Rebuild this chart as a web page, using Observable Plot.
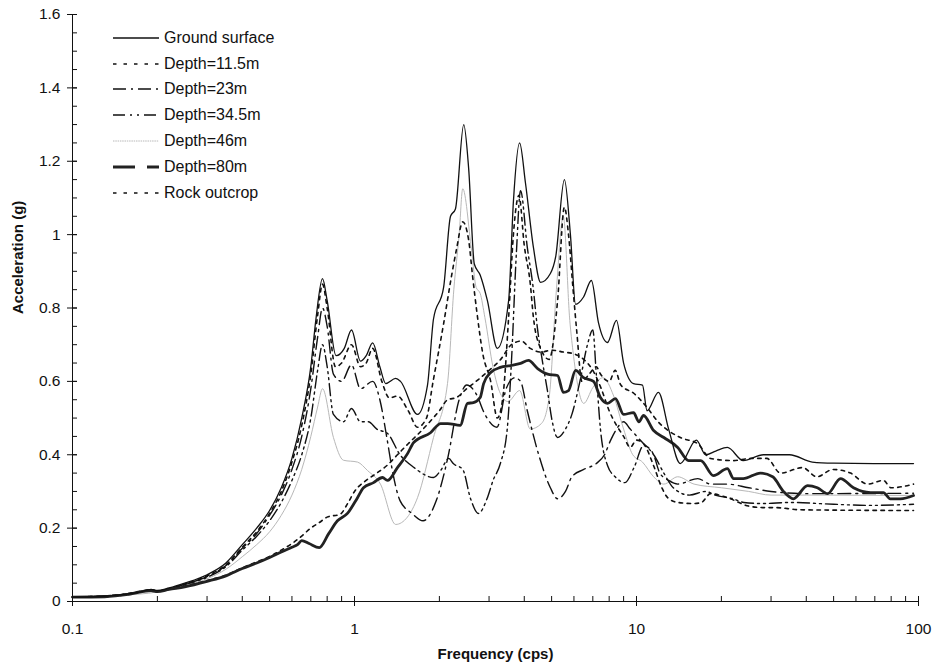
<!DOCTYPE html>
<html><head><meta charset="utf-8">
<script src="https://cdn.jsdelivr.net/npm/d3@7"></script>
<script src="https://cdn.jsdelivr.net/npm/@observablehq/plot@0.6"></script>
<style>
body{margin:0;background:#fff;}
#wrap{position:relative;width:934px;height:669px;font-family:"Liberation Sans",Arial,sans-serif;}
#legend{position:absolute;left:112px;top:25px;}
.row{display:flex;align-items:center;height:25.8px;}
.row svg{width:48px;height:10px;margin-right:4px;}
.row span{font-size:16px;color:#111;}
</style></head><body><div id="wrap"><div id="legend"></div></div>
<script>
// [frequency (cps), acceleration (g)]
const ground = [[0.1,0.012],[0.12,0.013],[0.15,0.019],[0.17,0.024],[0.19,0.033],[0.2,0.03],[0.22,0.037],[0.25,0.05],[0.3,0.073],[0.35,0.105],[0.4,0.155],[0.45,0.2],[0.5,0.248],[0.55,0.31],[0.6,0.39],[0.65,0.5],[0.7,0.64],[0.73,0.77],[0.77,0.88],[0.8,0.82],[0.86,0.67],[0.92,0.69],[0.976,0.74],[1.05,0.655],[1.1,0.67],[1.16,0.705],[1.23,0.64],[1.29,0.594],[1.4,0.608],[1.456,0.60],[1.673,0.51],[1.815,0.59],[1.906,0.77],[2.07,0.856],[2.19,1.05],[2.28,1.07],[2.44,1.30],[2.54,1.18],[2.66,0.92],[2.79,0.89],[2.96,0.82],[3.21,0.69],[3.52,0.82],[3.66,1.09],[3.85,1.25],[4.04,1.14],[4.31,0.965],[4.57,0.87],[4.95,0.894],[5.17,0.94],[5.55,1.15],[5.83,1.0],[6.08,0.81],[6.49,0.83],[6.92,0.875],[7.33,0.76],[7.89,0.706],[8.49,0.766],[9.0,0.65],[9.76,0.594],[10.5,0.59],[10.9,0.52],[11.96,0.57],[13.0,0.47],[14.3,0.376],[16.3,0.44],[17.6,0.40],[19.1,0.41],[21,0.42],[23.9,0.384],[28.2,0.40],[34.9,0.40],[42,0.38],[50,0.377],[70,0.376],[96,0.376]];
const depth11_5 = [[0.1,0.012],[0.15,0.019],[0.19,0.031],[0.2,0.029],[0.25,0.048],[0.3,0.07],[0.35,0.1],[0.4,0.148],[0.45,0.19],[0.5,0.24],[0.55,0.30],[0.6,0.38],[0.65,0.48],[0.7,0.62],[0.74,0.78],[0.77,0.865],[0.8,0.80],[0.856,0.64],[0.9,0.65],[0.976,0.70],[1.05,0.64],[1.1,0.65],[1.16,0.69],[1.25,0.60],[1.33,0.555],[1.42,0.56],[1.55,0.52],[1.673,0.475],[1.8,0.50],[1.9,0.60],[2.07,0.757],[2.2,0.88],[2.3,0.96],[2.42,1.035],[2.54,0.985],[2.62,0.89],[2.72,0.785],[2.85,0.676],[3.04,0.60],[3.21,0.50],[3.35,0.55],[3.52,0.774],[3.66,1.0],[3.83,1.107],[4.0,0.97],[4.2,0.867],[4.31,0.774],[4.57,0.69],[4.9,0.66],[5.25,0.82],[5.55,1.075],[5.74,1.0],[5.95,0.856],[6.15,0.73],[6.4,0.60],[6.8,0.62],[7.2,0.64],[7.45,0.62],[8.0,0.60],[8.4,0.63],[8.8,0.59],[9.8,0.567],[10.6,0.54],[12.1,0.485],[14.3,0.447],[16.5,0.43],[18.3,0.39],[22,0.384],[25.4,0.39],[29,0.39],[32.4,0.35],[38.8,0.365],[43.6,0.34],[49.8,0.36],[57.4,0.35],[66,0.32],[75,0.33],[80,0.31],[96,0.32]];
const depth23 = [[0.1,0.012],[0.15,0.019],[0.19,0.031],[0.2,0.028],[0.25,0.047],[0.3,0.068],[0.35,0.098],[0.4,0.145],[0.45,0.185],[0.5,0.235],[0.55,0.29],[0.6,0.36],[0.65,0.45],[0.7,0.58],[0.74,0.72],[0.77,0.80],[0.8,0.75],[0.842,0.62],[0.9,0.60],[0.976,0.645],[1.05,0.58],[1.16,0.60],[1.23,0.55],[1.3,0.45],[1.36,0.36],[1.45,0.275],[1.6,0.24],[1.75,0.22],[1.95,0.275],[2.14,0.39],[2.35,0.55],[2.5,0.59],[2.7,0.566],[2.9,0.51],[3.2,0.475],[3.45,0.58],[3.7,0.61],[3.88,0.60],[4.1,0.52],[4.5,0.40],[4.95,0.31],[5.25,0.28],[5.6,0.30],[5.9,0.34],[6.5,0.36],[7.2,0.376],[7.7,0.40],[8.1,0.44],[8.5,0.47],[9.0,0.49],[9.5,0.47],[10.6,0.43],[11.5,0.40],[12.1,0.35],[13,0.33],[14,0.32],[16.5,0.335],[18.3,0.32],[21,0.32],[25,0.31],[30,0.30],[40,0.294],[96,0.295]];
const depth34_5 = [[0.1,0.012],[0.15,0.018],[0.19,0.03],[0.2,0.028],[0.25,0.046],[0.3,0.066],[0.35,0.095],[0.4,0.14],[0.45,0.178],[0.5,0.22],[0.55,0.27],[0.6,0.33],[0.65,0.40],[0.7,0.50],[0.74,0.63],[0.77,0.70],[0.8,0.64],[0.842,0.51],[0.914,0.49],[0.976,0.526],[1.05,0.49],[1.12,0.49],[1.2,0.47],[1.31,0.458],[1.45,0.40],[1.62,0.366],[1.906,0.338],[2.02,0.357],[2.16,0.39],[2.24,0.376],[2.42,0.36],[2.58,0.28],[2.75,0.24],[2.95,0.28],[3.1,0.33],[3.29,0.376],[3.48,0.47],[3.6,0.65],[3.75,0.95],[3.88,1.12],[4.1,0.965],[4.3,0.856],[4.45,0.747],[4.65,0.65],[4.85,0.567],[5.0,0.50],[5.25,0.447],[5.6,0.47],[5.9,0.51],[6.3,0.60],[6.7,0.70],[7.0,0.74],[7.2,0.62],[7.45,0.47],[7.9,0.37],[8.4,0.34],[9.1,0.324],[9.8,0.365],[10.6,0.425],[11.5,0.40],[12.5,0.35],[13.5,0.31],[15.4,0.29],[17.6,0.30],[19,0.29],[22,0.28],[24,0.27],[28,0.267],[35,0.27],[50,0.265],[67,0.262],[96,0.265]];
const depth46 = [[0.1,0.012],[0.15,0.017],[0.2,0.026],[0.25,0.043],[0.3,0.062],[0.35,0.088],[0.4,0.122],[0.45,0.155],[0.5,0.19],[0.55,0.235],[0.6,0.29],[0.65,0.36],[0.7,0.45],[0.74,0.53],[0.77,0.58],[0.842,0.447],[0.914,0.385],[1.025,0.38],[1.112,0.357],[1.236,0.32],[1.4,0.21],[1.54,0.23],[1.673,0.283],[1.906,0.447],[2.137,0.594],[2.25,0.85],[2.35,1.0],[2.42,1.125],[2.6,0.957],[2.7,0.856],[2.79,0.84],[2.9,0.774],[3.1,0.638],[3.29,0.567],[3.5,0.545],[3.85,0.575],[4.2,0.47],[4.6,0.485],[4.9,0.556],[5.2,0.85],[5.5,1.05],[5.8,0.766],[5.95,0.684],[6.5,0.54],[7.0,0.583],[7.6,0.61],[8.3,0.56],[9.0,0.47],[9.7,0.40],[10.5,0.38],[11.5,0.34],[12.5,0.32],[14,0.34],[16,0.32],[20,0.31],[25,0.30],[30,0.29],[40,0.29],[96,0.289]];
const depth80 = [[0.1,0.012],[0.13,0.013],[0.16,0.02],[0.19,0.03],[0.2,0.027],[0.22,0.033],[0.25,0.04],[0.3,0.055],[0.35,0.07],[0.4,0.09],[0.45,0.105],[0.5,0.12],[0.55,0.135],[0.6,0.148],[0.628,0.155],[0.65,0.166],[0.69,0.158],[0.75,0.147],[0.81,0.185],[0.87,0.22],[0.944,0.24],[1.025,0.283],[1.076,0.31],[1.168,0.324],[1.257,0.338],[1.309,0.33],[1.42,0.365],[1.542,0.403],[1.62,0.433],[1.86,0.46],[2.02,0.485],[2.14,0.485],[2.37,0.48],[2.515,0.54],[2.64,0.542],[2.79,0.556],[2.87,0.594],[3.04,0.624],[3.29,0.638],[3.57,0.643],[3.88,0.649],[4.14,0.657],[4.46,0.635],[4.84,0.62],[5.25,0.616],[5.5,0.57],[5.74,0.575],[6.08,0.63],[6.49,0.61],[7.04,0.60],[7.45,0.556],[7.89,0.54],[8.42,0.553],[9.0,0.51],[9.76,0.515],[10.2,0.49],[10.59,0.507],[11.5,0.466],[12.5,0.447],[14.0,0.42],[15.3,0.384],[16.9,0.384],[18.75,0.343],[21,0.362],[22.1,0.335],[23.9,0.335],[27.5,0.35],[30.4,0.34],[33.2,0.30],[36.0,0.28],[40.4,0.316],[43.8,0.31],[47.6,0.294],[52.9,0.335],[58.8,0.31],[67.6,0.297],[75.1,0.297],[79.4,0.28],[86.3,0.28],[96,0.289]];
const rockOutcrop = [[0.1,0.012],[0.13,0.013],[0.16,0.02],[0.19,0.031],[0.2,0.028],[0.22,0.034],[0.25,0.042],[0.3,0.057],[0.35,0.072],[0.4,0.092],[0.45,0.108],[0.5,0.123],[0.55,0.14],[0.6,0.158],[0.64,0.174],[0.7,0.20],[0.75,0.215],[0.8,0.23],[0.89,0.238],[0.95,0.27],[1.0,0.30],[1.1,0.33],[1.2,0.35],[1.3,0.37],[1.42,0.40],[1.55,0.43],[1.7,0.46],[1.9,0.50],[2.0,0.52],[2.14,0.55],[2.3,0.556],[2.5,0.58],[2.7,0.60],[3.0,0.63],[3.3,0.66],[3.6,0.70],[3.9,0.71],[4.2,0.69],[4.6,0.68],[5.0,0.685],[5.5,0.68],[6.0,0.675],[6.5,0.66],[7.0,0.63],[7.5,0.58],[8.0,0.52],[8.5,0.48],[9.0,0.45],[9.5,0.42],[10,0.44],[10.6,0.43],[11.5,0.37],[12.3,0.31],[12.9,0.283],[14,0.27],[16,0.267],[17,0.27],[18.3,0.294],[21,0.283],[25,0.26],[28,0.256],[31,0.256],[38,0.25],[96,0.248]];

const seriesNames = ["Ground surface","Depth=11.5m","Depth=23m","Depth=34.5m","Depth=46m","Depth=80m","Rock outcrop"];
const xTicks = [0.1, 1, 10, 100];
const yTicks = [0, 0.2, 0.4, 0.6, 0.8, 1, 1.2, 1.4, 1.6];
const xMinorTicks = [0.1, 1, 10].flatMap(d => [2,3,4,5,6,7,8,9].map(k => +(k*d).toPrecision(3)));
const yMinorTicks = d3.range(0, 33).map(i => +(i*0.05).toFixed(2));

const styles = [
  {data: ground, stroke:"#111", w:1.3, dash:null, ldash:null},
  {data: depth11_5, stroke:"#111", w:1.6, dash:"3.5 4.5", ldash:"3.5 7"},
  {data: depth23, stroke:"#111", w:1.4, dash:"13 5 2 5", ldash:"13 5 2 5"},
  {data: depth34_5, stroke:"#111", w:1.4, dash:"12 4 2 4 2 4", ldash:"12 5 2 5 2 5"},
  {data: depth46, stroke:"#b8b8b8", w:1, dash:null, ldash:"1.5 0.8"},
  {data: depth80, stroke:"#222", w:2.8, dash:null, ldash:"22 12"},
  {data: rockOutcrop, stroke:"#111", w:1.6, dash:"3.5 4.5", ldash:"3.5 7"}
];
const drawOrder = [4, 6, 3, 2, 1, 5, 0];
const fmt = d => String(+d.toFixed(1));

const chart = Plot.plot({
  width: 934, height: 669,
  marginLeft: 72, marginRight: 16, marginTop: 14, marginBottom: 68,
  style: {fontFamily: "'Liberation Sans', Arial, sans-serif", fontSize: "15px", color: "#111", background: "#fff"},
  x: {type: "log", domain: [0.1, 100], axis: null},
  y: {domain: [0, 1.6], axis: null},
  marks: [
    ...drawOrder.map(i => Plot.line(styles[i].data, {x: d => d[0], y: d => d[1], stroke: styles[i].stroke, strokeWidth: styles[i].w, strokeDasharray: styles[i].dash, curve: "monotone-x"})),
    Plot.ruleX([0.1], {stroke: "#111"}),
    Plot.ruleY([0], {stroke: "#111"}),
    Plot.axisY(yTicks, {tickSize: 10, dx: 5, tickPadding: 7, tickFormat: fmt, label: null, fontSize: 15.5}),
    Plot.axisY(yMinorTicks, {tickSize: 5, dx: 5, tickFormat: () => "", label: null}),
    Plot.axisX(xTicks, {tickSize: 10, dy: -5, tickPadding: 16, tickFormat: d => String(d), label: null, fontSize: 15.5}),
    Plot.axisX(xMinorTicks, {tickSize: 5, dy: -5, tickFormat: () => "", label: null}),
    Plot.text(["Acceleration (g)"], {text: d => d, frameAnchor: "left", dx: -54, dy: 6, rotate: -90, fontWeight: "bold", fontSize: 15}),
    Plot.text(["Frequency (cps)"], {text: d => d, frameAnchor: "bottom", dy: 57, fontWeight: "bold", fontSize: 15})
  ]
});
const wrap = document.getElementById("wrap");
wrap.insertBefore(chart, wrap.firstChild);

const legend = document.getElementById("legend");
seriesNames.forEach((name, i) => {
  const s = styles[i];
  const row = document.createElement("div");
  row.className = "row";
  row.innerHTML = `<svg viewBox="0 0 48 10"><line x1="1" y1="5" x2="47" y2="5" stroke="${s.stroke}" stroke-width="${s.w}" ${s.ldash ? `stroke-dasharray="${s.ldash}"` : ""}/></svg><span>${name}</span>`;
  legend.appendChild(row);
});
</script></body></html>
